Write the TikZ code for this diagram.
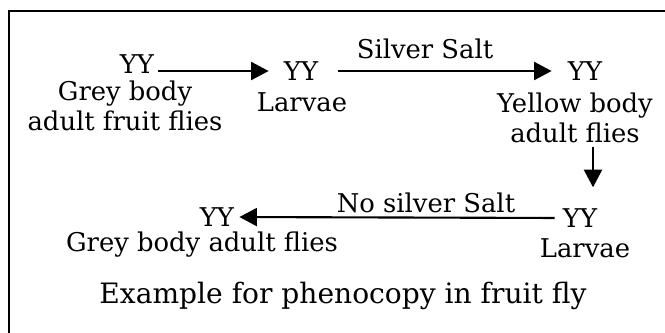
\documentclass[tikz,border=0pt]{standalone}
\usepackage{fontspec}
\setmainfont{DejaVu Serif}
\usepackage{tikz}
\usetikzlibrary{arrows.meta}

\begin{document}
\begin{tikzpicture}[x=0.02cm, y=-0.02cm,
  txt/.style={inner sep=0pt, font=\fontsize{14.7}{17.2}\selectfont},
  arr/.style={-{Triangle[length=0.35cm, width=0.36cm]}, line width=1.2pt}]

\useasboundingbox (0,0) rectangle (665,332);
\draw[line width=1.2pt] (9,11) rectangle (680,350);

% first row
\node[txt] (yyA) at (137,64) {YY};
\node[txt, align=center] (grA) at (125,106) {Grey body\\adult fruit flies};
\node[txt] (yyB) at (301,71) {YY};
\node[txt] (lvB) at (302,102) {Larvae};
\node[txt] (yyC) at (585,71) {YY};
\node[txt, align=center] (ylC) at (575,118) {Yellow body\\adult flies};
\node[txt] (slt) at (425,49) {Silver Salt};
\draw[arr, shorten <=0.08cm, shorten >=0.3cm] (yyA.east |- yyB.center) -- (yyB.west);
\draw[arr, shorten <=0.4cm, shorten >=0.32cm] (yyB.east) -- (yyC.west);

% down to second row
\coordinate (dn) at (593,0);
\node[txt] (yyD) at (580,218) {YY};
\node[txt] (lvD) at (585,248) {Larvae};
\draw[arr, shorten <=0.08cm, shorten >=0.42cm] (ylC.south -| dn) -- (yyD.north -| dn);

% second row
\node[txt] (nos) at (426,203) {No silver Salt};
\node[txt] (yyE) at (217,217) {YY};
\node[txt] (grE) at (202,245) {Grey body adult flies};
\draw[arr, shorten <=0.16cm, shorten >=0.1cm] (yyD.west) -- (yyE.east);

\node[txt, font=\fontsize{16}{19}\selectfont] (cap) at (343,296) {Example for phenocopy in fruit fly};

\end{tikzpicture}
\end{document}
